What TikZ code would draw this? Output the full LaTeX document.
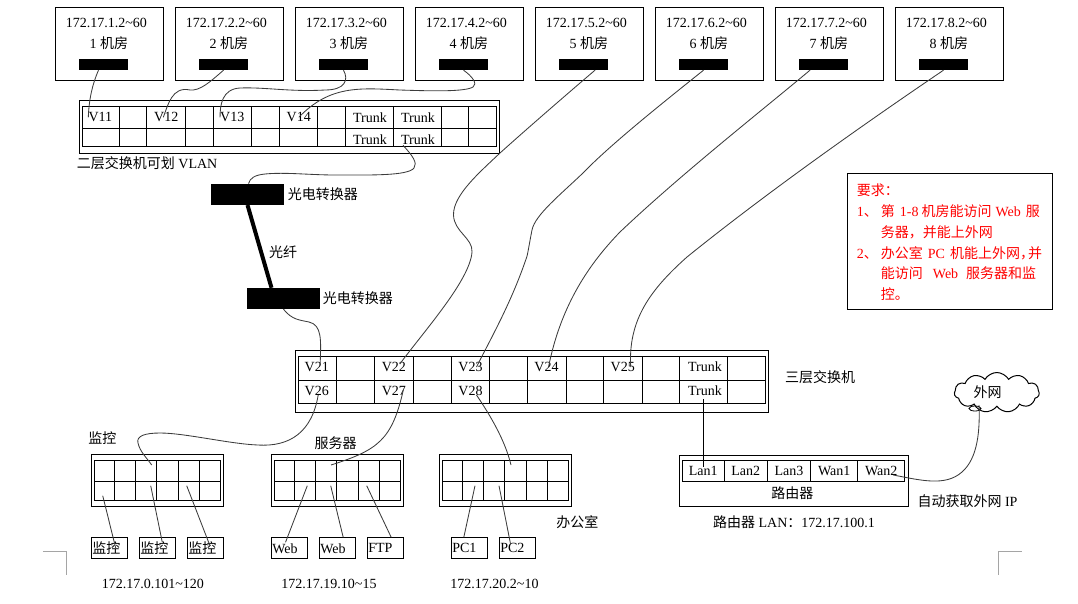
\documentclass[tikz,border=0pt]{standalone}
\usepackage{fontspec}
\setmainfont{Liberation Serif}
\newfontfamily\cjk{Noto Sans CJK SC}
\usetikzlibrary{shapes.symbols}
\definecolor{mycable}{RGB}{60,60,60}
\definecolor{mymark}{RGB}{165,165,165}
\definecolor{myred}{RGB}{255,0,0}
\tikzset{
  roombox/.style={rectangle, draw=black, line width=1pt, minimum width=108pt, minimum height=73pt, anchor=north west},
  portbar/.style={rectangle, fill=black, minimum width=49pt, minimum height=11pt},
  convbar/.style={rectangle, fill=black, minimum width=73pt, minimum height=21pt},
  swbox/.style={rectangle, draw=black, line width=1pt, anchor=north west},
  hostbox/.style={rectangle, draw=black, line width=1pt, minimum width=36pt, minimum height=21pt, anchor=north west, text width=35pt, align=left},
  grid/.style={draw=black, line width=1pt},
  cable/.style={line width=0.85pt, color=mycable},
  fiber/.style={line width=4pt, color=black},
  cropmark/.style={line width=1pt, color=mymark}
}
\begin{document}
\begin{tikzpicture}[x=1pt, y=-1pt, every node/.style={inner sep=0pt, font=\fontsize{14}{16}\selectfont}]
  \useasboundingbox (0,0) rectangle (1078,603);

  % Rooms along the top
  \foreach \i [evaluate=\i as \xx using 55.3+120*(\i-1)] in {1,...,8} {
    \node[roombox] (room\i) at (\xx,7.3) {};
    \node (ip\i) at (\xx+51,23) {172.17.\i.2\textasciitilde60};
    \node (name\i) at (\xx+53.5,43.5) {\i\ {\cjk 机房}};
    \node[portbar] (port\i) at (\xx+48.2,64.5) {};
  }

  % Layer 2 switch
  \node[swbox, minimum width=420pt, minimum height=52.4pt] (swtwo) at (79.3,100.3) {};
  \draw[grid] (82.3,106.3) rectangle (496.3,146.3);
  \draw[grid] (82.3,128.3) -- (496.3,128.3);
  \foreach \xx in {119.3,146.3,185.3,213.3,251.3,279.3,317.3,345.3,393.3,441.3,468.3}
    \draw[grid] (\xx,106.3) -- (\xx,146.3);
  \foreach \nm/\txt/\xx/\yy in {v11/V11/100.3/117.3, v12/V12/166.3/117.3, v13/V13/232.3/117.3, v14/V14/298.8/117.3,
      tka/Trunk/370/117.3, tkb/Trunk/418/117.3, tkc/Trunk/370/139.3, tkd/Trunk/418/139.3}
    \node (\nm) at (\xx,\yy) {\txt};
  \node[anchor=west] (swtwotxt) at (76.7,163.3) {{\cjk 二层交换机可划} VLAN};

  % Media converters and fibre
  \node[convbar] (conva) at (247.5,194.3) {};
  \node[convbar] (convb) at (283.5,298.5) {};
  \node[anchor=west] (convatxt) at (287.7,194) {\cjk 光电转换器};
  \node[anchor=west] (convbtxt) at (322.7,298.3) {\cjk 光电转换器};
  \node (fibertxt) at (283,251.7) {\cjk 光纤};
  \draw[fiber] (conva.south) -- ([xshift=-12pt]convb.north);

  % Layer 3 switch
  \node[swbox, minimum width=473pt, minimum height=62pt] (swthree) at (295.3,350.3) {};
  \draw[grid] (298.3,356.3) rectangle (765.3,403.3);
  \draw[grid] (298.3,380.3) -- (765.3,380.3);
  \foreach \xx in {336.7,374.7,413.3,451.7,489.3,527.3,566.3,603.3,642.7,679.3,727.3}
    \draw[grid] (\xx,356.3) -- (\xx,403.3);
  \foreach \nm/\txt/\xx/\yy in {v21/V21/316.7/367, v22/V22/393.8/367, v23/V23/470.5/367, v24/V24/546.5/367, v25/V25/622.7/367,
      tke/Trunk/705/367, v26/V26/316.7/391, v27/V27/393.8/391, v28/V28/470.5/391, tkf/Trunk/705/391}
    \node (\nm) at (\xx,\yy) {\txt};
  \node[anchor=west] (swthreetxt) at (785,376.7) {\cjk 三层交换机};

  % Access switches
  \foreach \sx/\nm in {0/mon,180/srv,348/off} {
    \begin{scope}[shift={(\sx,0)}]
      \node[swbox, minimum width=132pt, minimum height=52pt] (\nm box) at (91.3,454.3) {};
      \draw[grid] (94.3,460.3) rectangle (220.7,500.3);
      \draw[grid] (94.3,481.3) -- (220.7,481.3);
      \foreach \xx in {114.3,135.3,156.3,178.3,199.3}
        \draw[grid] (\xx,460.3) -- (\xx,500.3);
    \end{scope}
  }
  \node (montxt) at (102.4,438) {\cjk 监控};
  \node (srvtxt) at (335.5,443) {\cjk 服务器};
  \node (offtxt) at (577.3,521.7) {\cjk 办公室};

  % Hosts
  \foreach \nm/\txt/\xx in {cama/{\cjk 监控}/91.3, camb/{\cjk 监控}/139.3, camc/{\cjk 监控}/187.3,
      weba/Web/271.3, webb/Web/319.3, ftp/FTP/367.3, pca/PC1/451.3, pcb/PC2/499.3}
    \node[hostbox] (\nm) at (\xx,537.3) {\txt};
  \node (monip) at (152.8,584.3) {172.17.0.101\textasciitilde120};
  \node (srvip) at (329,584.3) {172.17.19.10\textasciitilde15};
  \node (offip) at (494.5,584.3) {172.17.20.2\textasciitilde10};

  % Router
  \node[swbox, minimum width=228.4pt, minimum height=51.6pt] (router) at (679.3,454.7) {};
  \draw[grid] (682.3,460.7) rectangle (904.7,481.3);
  \foreach \xx in {724.3,767.3,810.7,857.7}
    \draw[grid] (\xx,460.7) -- (\xx,481.3);
  \foreach \nm/\txt/\xx in {lana/Lan1/703.3, lanb/Lan2/745.8, lanc/Lan3/789, wana/Wan1/834.2, wanb/Wan2/881.2}
    \node (\nm) at (\xx,471) {\txt};
  \node (routertxt) at (792.3,492.7) {\cjk 路由器};
  \node (lanip) at (794,522) {{\cjk 路由器} LAN{\cjk ：}172.17.100.1};
  \node[anchor=west] (wantxt) at (917.3,500.7) {{\cjk 自动获取外网} IP};

  % Internet cloud
  \node[cloud, draw=black, line width=1pt, cloud puffs=11, cloud puff arc=120, aspect=2.2, minimum width=85pt, minimum height=40pt] (inet) at (996.8,392.5) {};
  \draw[line width=0.8pt] (975,408.5) ellipse (6pt and 2.5pt);
  \node (inettxt) at (987.7,391.7) {\cjk 外网};
  \coordinate (inetend) at (979,405);

  % Requirements
  \node[swbox, minimum width=204.4pt, minimum height=135.4pt] (reqbox) at (847.3,173.3) {};
  \node[anchor=north west, align=left, text=myred, font=\fontsize{14}{20.7}\selectfont] (reqtxt) at (856.7,184) {%
    {\cjk 要求：}\\
    1{\cjk 、}\hspace{3pt}{\cjk 第}\hspace{5pt}1-8\hspace{3pt}{\cjk 机房能访问}\hspace{4pt}Web\hspace{5pt}{\cjk 服}\\
    \hspace*{24pt}{\cjk 务器，并能上外网}\\
    2{\cjk 、}\hspace{3pt}{\cjk 办公室}\hspace{5pt}PC\hspace{5pt}{\cjk 机能上外网，}\hspace{-6pt}{\cjk 并}\\
    \hspace*{24pt}{\cjk 能访问}\hspace{10pt}Web\hspace{8pt}{\cjk 服务器和监}\\
    \hspace*{24pt}{\cjk 控。}};

  % Page corner marks
  \draw[cropmark] (42.8,551.3) -- (66.6,551.3) -- (66.6,575);
  \draw[cropmark] (1021.7,551.3) -- (998.3,551.3) -- (998.3,575);

  % Cables from the rooms
  \draw[cable] ([xshift=-5pt]port1.south) .. controls (92,85) and (89,100) .. (v11.west);
  \draw[cable] (port2.south) .. controls (210,82) and (200,91) .. (190,90) .. controls (172,86) and (168,105) .. ([xshift=-3pt]v12.center);
  \draw[cable] (port3.south) .. controls (349,80) and (345,90) .. (325,90) .. controls (290,92) and (265,87) .. (240,88) .. controls (222,89) and (220,105) .. (v13.west);
  \draw[cable] (port4.south) .. controls (472,76) and (478,84) .. (473,87) .. controls (465,92) and (430,91) .. (400,90) .. controls (360,88) and (330,85) .. (v14.center);
  \draw[cable] ([xshift=11.5pt]port5.south) .. controls (560,100) and (520,135) .. (500,153) .. controls (480,172) and (453,195) .. (453.5,215) .. controls (454,232) and (473,238) .. (472,252) .. controls (470,280) and (425,330) .. ([yshift=3pt,xshift=6pt]v22.center);
  \draw[cable] (port6.south) .. controls (660,105) and (610,145) .. (583,173) .. controls (560,195) and (535,215) .. (532,230) .. controls (528,250) and (528,255) .. (525,262) .. controls (510,305) and (490,340) .. ([xshift=6pt]v23.center);
  \draw[cable] ([xshift=-13.5pt]port7.south) .. controls (760,112) and (680,175) .. (620,232) .. controls (585,268) and (560,310) .. ([xshift=2pt]v24.center);
  \draw[cable] (port8.south) .. controls (870,120) and (770,190) .. (687,257) .. controls (650,290) and (628,320) .. ([xshift=8pt]v25.center);

  % Trunk links
  \draw[cable] ([xshift=-15pt,yshift=-6pt]tkd.center) .. controls (412,155) and (418,163) .. (414,168) .. controls (408,176) and (370,175) .. (335,175) .. controls (310,175) and (285,172) .. (265,174) .. controls (255,175) and (250,178) .. ([xshift=1pt]conva.north);
  \draw[cable] (convb.south) .. controls (292,320) and (300,320) .. (309,322) .. controls (322,325) and (321,340) .. ([xshift=3.5pt,yshift=4pt]v21.center);
  \draw[line width=1pt, color=black] ([xshift=-1.7pt,yshift=-3pt]tkf.south) -- ([yshift=-1pt]lana.north);
  \draw[cable] ([xshift=12pt,yshift=-4pt]wanb.center) .. controls (920,480) and (945,487) .. (962,472) .. controls (978,458) and (980,430) .. (inetend);

  % Free ends inside the access switches
  \coordinate (mona) at (102.7,495.7);
  \coordinate (monb) at (150.7,485.7);
  \coordinate (monc) at (186.7,485.7);
  \coordinate (mond) at (151.7,465);
  \coordinate (srva) at (307.3,485.7);
  \coordinate (srvb) at (330.7,485.7);
  \coordinate (srvc) at (366.7,485.7);
  \coordinate (srvd) at (331,465);
  \coordinate (offa) at (475,485.7);
  \coordinate (offb) at (499,485.7);
  \coordinate (offc) at (511,465);

  % Uplinks from layer 3
  \draw[cable] ([xshift=1.5pt,yshift=-4pt]v26.center) .. controls (312,432) and (290,447) .. (258,445) .. controls (230,444) and (185,433) .. (160,433) .. controls (145,433) and (136,436) .. (138,443) .. controls (140,452) and (147,458) .. (mond);
  \draw[cable] ([xshift=9.5pt,yshift=1pt]v27.center) .. controls (392,440) and (378,450) .. (srvd);
  \draw[cable] ([xshift=6pt,yshift=-4pt]v28.center) .. controls (490,415) and (505,440) .. (offc);

  % Host links
  \draw[cable] (mona) -- ([xshift=6pt]cama.center);
  \draw[cable] (monb) -- ([xshift=4.5pt,yshift=6pt]camb.center);
  \draw[cable] (monc) -- ([xshift=4pt,yshift=3pt]camc.center);
  \draw[cable] (srva) -- ([xshift=-4.3pt,yshift=6pt]weba.center);
  \draw[cable] (srvb) -- ([xshift=5.4pt]webb.north);
  \draw[cable] (srvc) -- ([xshift=5.4pt]ftp.north);
  \draw[cable] (offa) -- ([xshift=-6pt]pca.north);
  \draw[cable] (offb) -- ([xshift=-7.3pt,yshift=4.5pt]pcb.center);
\end{tikzpicture}
\end{document}
